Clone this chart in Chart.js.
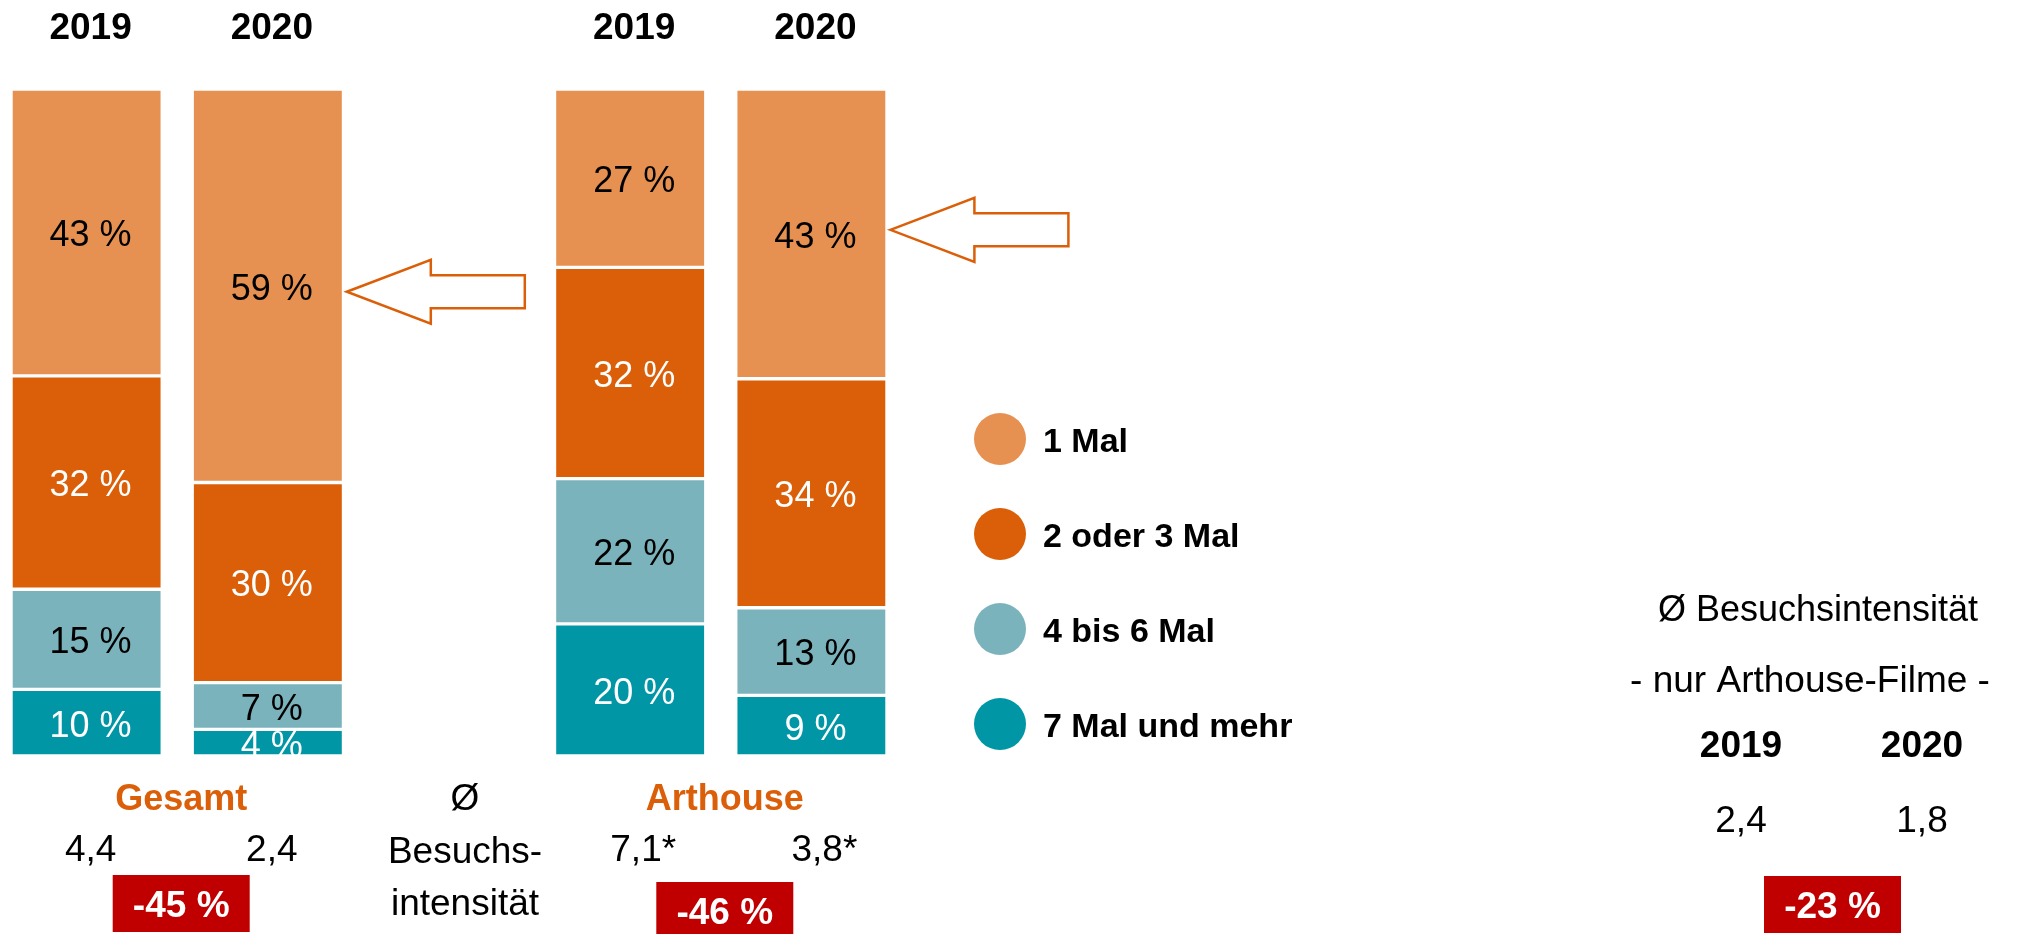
<!DOCTYPE html>
<html><head><meta charset="utf-8">
<script src="https://cdn.jsdelivr.net/npm/chart.js@4"></script>
<style>
html,body{margin:0;padding:0;background:#fff;overflow:hidden;width:2036px;height:934px;}
#wrap{position:absolute;left:-4px;top:0;width:2040px;height:934px;}
</style></head><body>
<div id="wrap"><canvas id="c" width="2040" height="934"></canvas></div>
<script>
// ---- data ----
const categories = ['2019', '2020', '', '2019', '2020'];
const seriesNames = ['1 Mal', '2 oder 3 Mal', '4 bis 6 Mal', '7 Mal und mehr'];
const einMal        = [43, 59, null, 27, 43];
const zweiOderDrei  = [32, 30, null, 32, 34];
const vierBisSechs  = [15,  7, null, 22, 13];
const siebenUndMehr = [10,  4, null, 20,  9];
const groupNames = ['Gesamt', 'Arthouse'];
const intensitaet = ['4,4', '2,4', null, '7,1*', '3,8*'];
const veraenderung = ['-45 %', '-46 %'];
const intensitaetTitle = ['Ø', 'Besuchs-', 'intensität'];
const arthouseTitle1 = 'Ø Besuchsintensität';
const arthouseTitle2 = '- nur Arthouse-Filme -';
const arthouseYears = ['2019', '2020'];
const arthouseValues = ['2,4', '1,8'];
const arthouseChange = '-23 %';

// ---- styles ----
const seriesColors = ['#E69151', '#DA5F08', '#7BB3BD', '#0096A5'];
const labelColors  = ['#000000', '#ffffff', '#000000', '#ffffff'];
const ORANGE = '#DA5F08', RED = '#C00000';
const FONT = '"Liberation Sans", Arial, sans-serif';

const allSeries = [einMal, zweiOderDrei, vierBisSechs, siebenUndMehr];
const totals = categories.map((_, i) => allSeries.reduce((s, a) => s + (a[i] || 0), 0));
const share = arr => arr.map((v, i) => v == null ? null : v / totals[i] * 100);

// stack from bottom: 7+, 4-6, 2-3, 1
const datasets = [3, 2, 1, 0].map(k => ({
  label: seriesNames[k],
  data: share(allSeries[k]),
  rawValues: allSeries[k],
  labelColor: labelColors[k],
  backgroundColor: seriesColors[k],
  borderColor: '#ffffff',
  borderWidth: {top: 2, bottom: 2, left: 0, right: 0},
  borderSkipped: false,
  barThickness: 148
}));

const P = x => x + 4; // page x -> canvas x

const annot = {
  id: 'annot',
  afterDatasetsDraw(chart) {
    const c = chart.ctx;
    const xs = chart.scales.x;
    const cx = i => xs.getPixelForValue(i);
    const F = (w, s) => `${w} ${s}px ${FONT}`;
    // y = vertical centre of the capital/digit height
    const txt = (t, x, y, weight, size, color, align = 'center') => {
      c.save(); c.font = F(weight, size); c.fillStyle = color; c.textAlign = align; c.textBaseline = 'alphabetic';
      c.fillText(t, x, y + 0.358 * size); c.restore();
    };
    // year headings
    categories.forEach((t, i) => { if (t) txt(t, cx(i) + 4, 26, 'bold', 37, '#000'); });
    // segment labels
    chart.data.datasets.forEach((ds, di) => {
      const meta = chart.getDatasetMeta(di);
      meta.data.forEach((el, i) => {
        const raw = ds.rawValues[i];
        if (raw == null) return;
        txt(raw + ' %', el.x + 4, (el.y + el.base) / 2 + 1, 'normal', 36, ds.labelColor);
      });
    });
    // arrows
    const arrow = (tx, ty) => {
      c.save();
      c.beginPath();
      c.moveTo(tx, ty);
      c.lineTo(tx + 84, ty - 32);
      c.lineTo(tx + 84, ty - 16.5);
      c.lineTo(tx + 178, ty - 16.5);
      c.lineTo(tx + 178, ty + 16.5);
      c.lineTo(tx + 84, ty + 16.5);
      c.lineTo(tx + 84, ty + 32);
      c.closePath();
      c.fillStyle = '#fff'; c.fill();
      c.strokeStyle = ORANGE; c.lineWidth = 2.5; c.lineJoin = 'miter'; c.stroke();
      c.restore();
    };
    const topMeta = chart.getDatasetMeta(3);
    [[1, 6], [4, -4]].forEach(([i, dy]) => {
      const el = topMeta.data[i];
      arrow(el.x + 74 + 5, (el.y + el.base) / 2 + dy);
    });
    // group names and intensities
    const mid01 = (cx(0) + cx(1)) / 2, mid34 = (cx(3) + cx(4)) / 2;
    txt(groupNames[0], mid01 + 4, 797, 'bold', 36, ORANGE);
    txt(groupNames[1], mid34 + 4, 797, 'bold', 36, ORANGE);
    intensitaet.forEach((t, i) => {
      if (!t) return;
      txt(t, cx(i) + 4 + (t.endsWith('*') ? 9 : 0), 848, 'normal', 37, '#000');
    });
    const box = (t, x, y) => {
      c.save(); c.fillStyle = RED; c.fillRect(x - 68.5, y, 137, 57); c.restore();
      txt(t, x, y + 29, 'bold', 37, '#fff');
    };
    box(veraenderung[0], mid01 + 4, 875);
    box(veraenderung[1], mid34 + 4, 882);
    // middle label
    [797, 850, 902].forEach((y, k) => txt(intensitaetTitle[k], cx(2) + 16, y, 'normal', 37, '#000'));
    // legend
    const legY = [439, 534, 629, 724];
    seriesNames.forEach((n, k) => {
      c.save(); c.beginPath(); c.arc(P(1000), legY[k], 26, 0, Math.PI * 2);
      c.fillStyle = seriesColors[k]; c.fill(); c.restore();
      txt(n, P(1043), legY[k] + 1, 'bold', 34, '#000', 'left');
    });
    // right panel
    txt(arthouseTitle1, P(1818), 608, 'normal', 36, '#000');
    txt(arthouseTitle2, P(1810), 679, 'normal', 37, '#000');
    const rx = [1741, 1922];
    arthouseYears.forEach((t, i) => txt(t, P(rx[i]), 744, 'bold', 37, '#000'));
    arthouseValues.forEach((t, i) => txt(t, P(rx[i]), 819, 'normal', 37, '#000'));
    box(arthouseChange, P(1832.5), 876);
  }
};

new Chart(document.getElementById('c').getContext('2d'), {
  type: 'bar',
  data: { labels: categories, datasets },
  options: {
    responsive: false,
    animation: false,
    layout: { padding: { left: 0, right: 2040 - 906, top: 89, bottom: 934 - 756 } },
    scales: {
      x: { stacked: true, display: false },
      y: { stacked: true, display: false, min: 0, max: 100 }
    },
    plugins: { legend: { display: false }, tooltip: { enabled: false } }
  },
  plugins: [annot]
});
</script>
</body></html>
